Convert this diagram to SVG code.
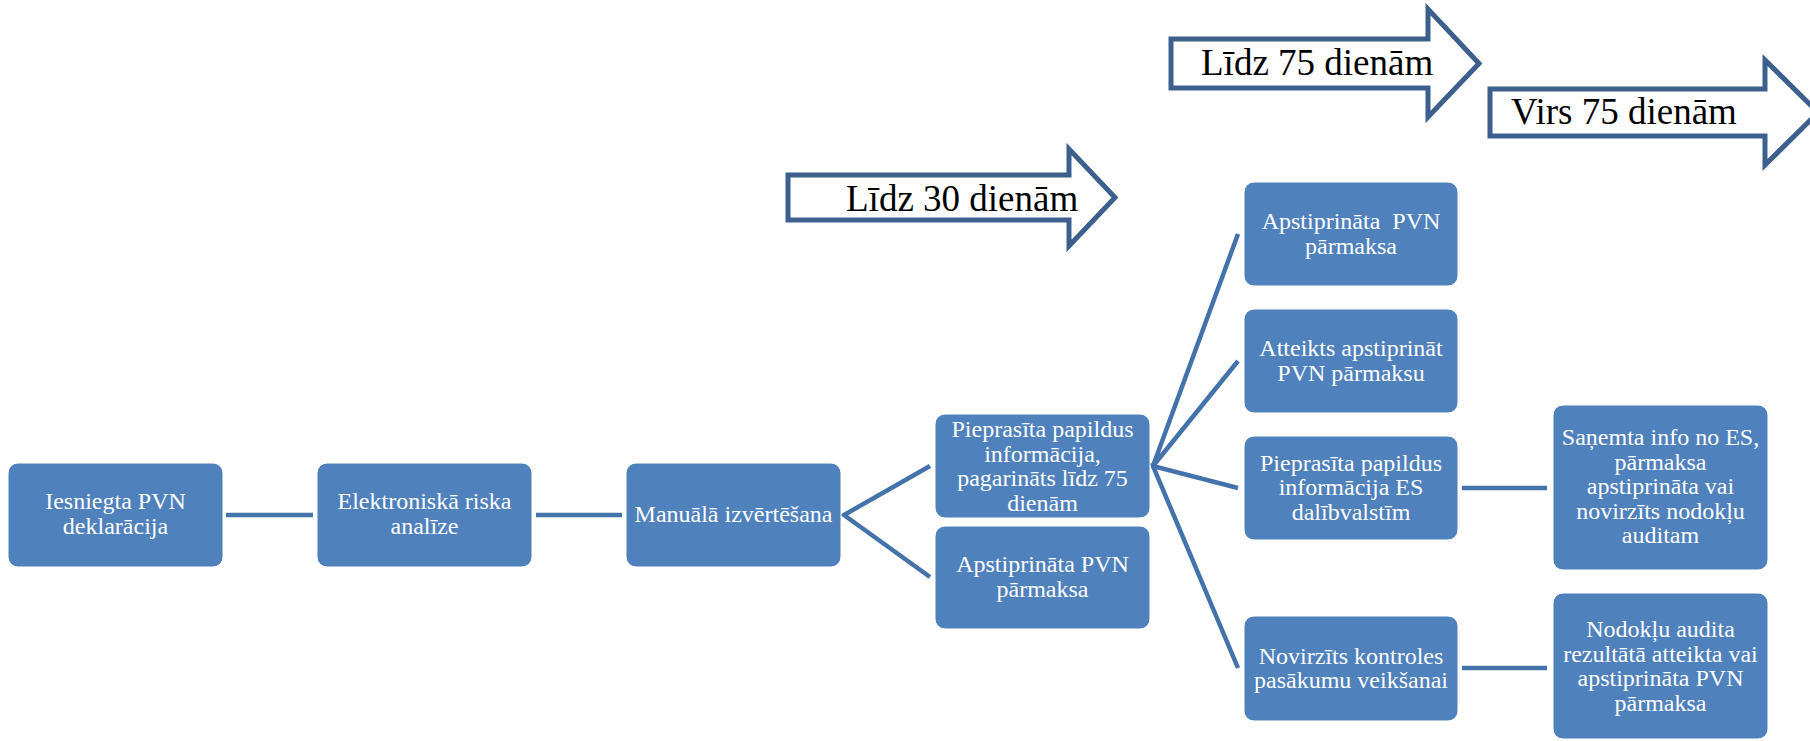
<svg xmlns="http://www.w3.org/2000/svg" width="1810" height="741" viewBox="0 0 1810 741">
<style>
.box{fill:#4F81BD;stroke:#ffffff;stroke-width:1}
.t{font-family:"Liberation Serif","Times New Roman",serif;font-size:24px;fill:#ffffff;text-anchor:middle}
.conn{fill:none;stroke:#4472AB;stroke-width:4.5;stroke-linejoin:miter}
.arr{fill:#ffffff;stroke:#3C5F8E;stroke-width:5;stroke-linejoin:miter}
.at{font-family:"Liberation Serif","Times New Roman",serif;font-size:37px;fill:#000000}
</style>
<rect width="1810" height="741" fill="#ffffff"/>
<g id="timeline">
<g id="arrow30"><path class="arr" d="M788,175 L1069,175 L1069,149 L1115,197.5 L1069,246 L1069,220 L788,220 Z"/><text class="at" x="846" y="211">Līdz 30 dienām</text></g>
<g id="arrow75"><path class="arr" d="M1171,39 L1428,39 L1428,9 L1479,63.5 L1428,117 L1428,88 L1171,88 Z"/><text class="at" x="1201" y="75">Līdz 75 dienām</text></g>
<g id="arrowVirs75"><path class="arr" d="M1490,89 L1765,89 L1765,60 L1818,112.5 L1765,165 L1765,136 L1490,136 Z"/><text class="at" x="1511" y="124">Virs 75 dienām</text></g>
</g>
<g id="connectors">
<path class="conn" d="M226,515 L313,515"/>
<path class="conn" d="M536,515 L622,515"/>
<path class="conn" d="M930,466 L844,515 L930,577"/>
<path class="conn" d="M1238,234 L1153,466 L1238,361"/>
<path class="conn" d="M1238,488 L1153,466 L1238,668"/>
<path class="conn" d="M1462,488 L1547,488"/>
<path class="conn" d="M1462,668 L1547,668"/>
</g>
<g id="n1"><rect class="box" x="8" y="463" width="215" height="104" rx="10"/><text class="t" x="115.5" y="509">Iesniegta PVN</text><text class="t" x="115.5" y="533.5">deklarācija</text></g>
<g id="n2"><rect class="box" x="317" y="463" width="215" height="104" rx="10"/><text class="t" x="424.5" y="509">Elektroniskā riska</text><text class="t" x="424.5" y="533.5">analīze</text></g>
<g id="n3"><rect class="box" x="626" y="463" width="215" height="104" rx="10"/><text class="t" x="733.5" y="522">Manuālā izvērtēšana</text></g>
<g id="n4"><rect class="box" x="935" y="414" width="215" height="104" rx="10"/><text class="t" x="1042.5" y="437">Pieprasīta papildus</text><text class="t" x="1042.5" y="461.5">informācija,</text><text class="t" x="1042.5" y="486">pagarināts līdz 75</text><text class="t" x="1042.5" y="510.5">dienām</text></g>
<g id="n5"><rect class="box" x="935" y="526" width="215" height="103" rx="10"/><text class="t" x="1042.5" y="572">Apstiprināta PVN</text><text class="t" x="1042.5" y="596.5">pārmaksa</text></g>
<g id="n6"><rect class="box" x="1244" y="182" width="214" height="104" rx="10"/><text class="t" x="1351" y="229" xml:space="preserve">Apstiprināta  PVN</text><text class="t" x="1351" y="253.5">pārmaksa</text></g>
<g id="n7"><rect class="box" x="1244" y="309" width="214" height="104" rx="10"/><text class="t" x="1351" y="356">Atteikts apstiprināt</text><text class="t" x="1351" y="380.5">PVN pārmaksu</text></g>
<g id="n8"><rect class="box" x="1244" y="436" width="214" height="104" rx="10"/><text class="t" x="1351" y="470.5">Pieprasīta papildus</text><text class="t" x="1351" y="495">informācija ES</text><text class="t" x="1351" y="519.5">dalībvalstīm</text></g>
<g id="n9"><rect class="box" x="1244" y="616" width="214" height="105" rx="10"/><text class="t" x="1351" y="663.5">Novirzīts kontroles</text><text class="t" x="1351" y="688">pasākumu veikšanai</text></g>
<g id="n10"><rect class="box" x="1553" y="405" width="215" height="165" rx="10"/><text class="t" x="1660.5" y="445">Saņemta info no ES,</text><text class="t" x="1660.5" y="469.5">pārmaksa</text><text class="t" x="1660.5" y="494">apstiprināta vai</text><text class="t" x="1660.5" y="518.5">novirzīts nodokļu</text><text class="t" x="1660.5" y="543">auditam</text></g>
<g id="n11"><rect class="box" x="1553" y="593" width="215" height="146" rx="10"/><text class="t" x="1660.5" y="637">Nodokļu audita</text><text class="t" x="1660.5" y="661.5">rezultātā atteikta vai</text><text class="t" x="1660.5" y="686">apstiprināta PVN</text><text class="t" x="1660.5" y="710.5">pārmaksa</text></g>
</svg>
